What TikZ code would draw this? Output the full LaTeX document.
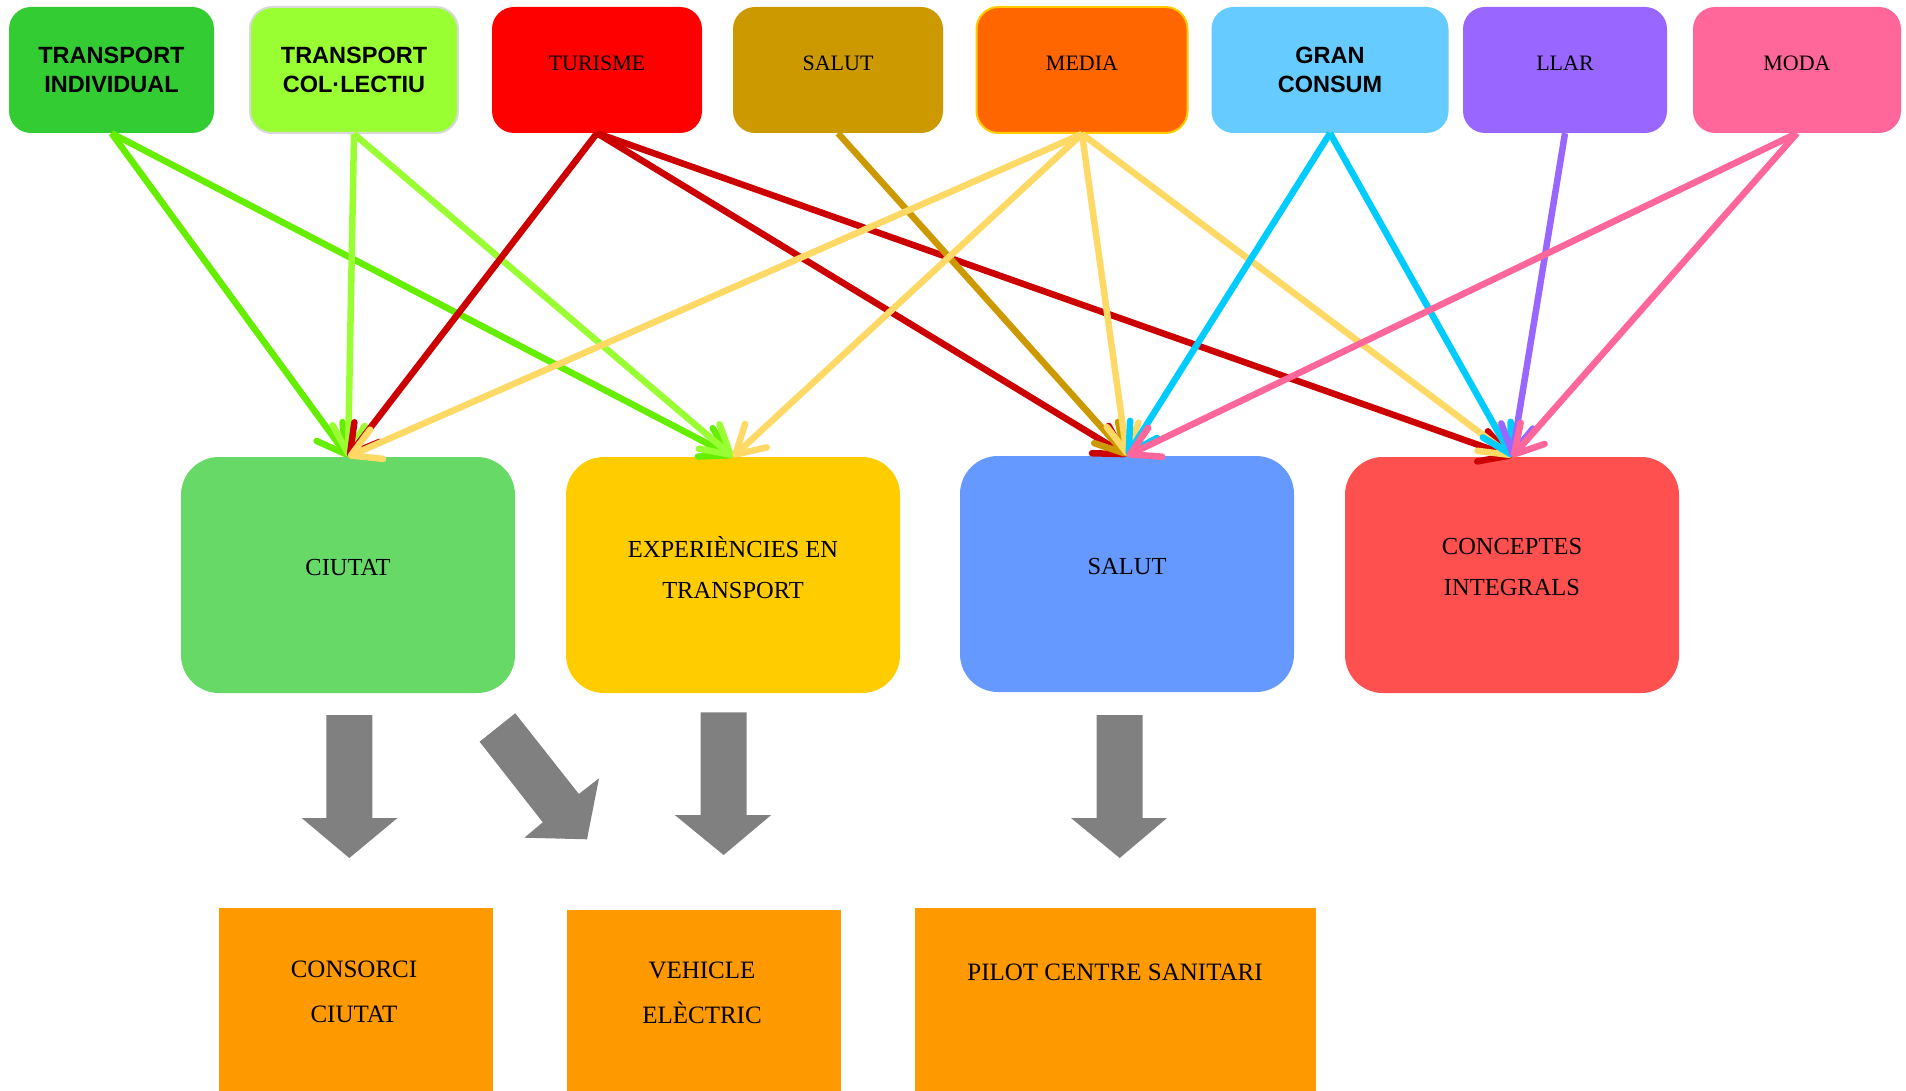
\documentclass[tikz,border=0pt]{standalone}
\usepackage{fontspec}
\setmainfont{Liberation Serif}
\newfontfamily\arialfont{Liberation Sans}
\usetikzlibrary{arrows.meta}

\definecolor{indiv}{HTML}{33CC33}
\definecolor{colect}{HTML}{99FF33}
\definecolor{colectline}{HTML}{D9D9D9}
\definecolor{turisme}{HTML}{FF0000}
\definecolor{salut}{HTML}{CC9900}
\definecolor{media}{HTML}{FF6600}
\definecolor{medialine}{HTML}{FFCC00}
\definecolor{consum}{HTML}{66CCFF}
\definecolor{llar}{HTML}{9966FF}
\definecolor{moda}{HTML}{FF6699}
\definecolor{ciutat}{HTML}{66D966}
\definecolor{exper}{HTML}{FFCC00}
\definecolor{salutm}{HTML}{6699FF}
\definecolor{integr}{HTML}{FF5050}
\definecolor{pilot}{HTML}{FF9900}
\definecolor{blockgray}{HTML}{808080}
\definecolor{lindiv}{HTML}{66EE00}
\definecolor{lcolect}{HTML}{99FF33}
\definecolor{lturisme}{HTML}{CC0000}
\definecolor{lsalut}{HTML}{CC9900}
\definecolor{lmedia}{HTML}{FFD966}
\definecolor{lconsum}{HTML}{00CCFF}
\definecolor{lllar}{HTML}{9966FF}
\definecolor{lmoda}{HTML}{FF6699}

\begin{document}
\begin{tikzpicture}[x=1pt,y=-1pt,
    box/.style={inner sep=0pt,align=center},
    tbox/.style={box,rounded corners=22pt,minimum width=208pt,minimum height=126pt},
    tsans/.style={tbox,font=\arialfont\bfseries\fontsize{23.5pt}{29pt}\selectfont},
    tserif/.style={tbox,font=\fontsize{22pt}{26pt}\selectfont,text depth=14pt},
    mbox/.style={box,rounded corners=38pt,minimum width=334pt,minimum height=236pt,
      font=\fontsize{24.5pt}{41pt}\selectfont,text depth=16pt},
    bbox/.style={box,fill=pilot,anchor=north,minimum height=183pt},
    btext/.style={box,font=\fontsize{25pt}{45pt}\selectfont},
    link/.style={line width=6.5pt,-{Straight Barb[length=28pt,width=32pt,round]}},
    block/.style={fill=blockgray}]
  \useasboundingbox (0,0) rectangle (1906,1091);

  \node[tsans,fill=indiv,minimum width=205pt] (t1) at (111.5,70) {TRANSPORT\\INDIVIDUAL};
  \node[tsans,fill=colect,draw=colectline,line width=2pt] (t2) at (354,70) {TRANSPORT\\COL·LECTIU};
  \node[tserif,fill=turisme,minimum width=210pt] (t3) at (597,70) {TURISME};
  \node[tserif,fill=salut,minimum width=210pt] (t4) at (838,70) {SALUT};
  \node[tserif,fill=media,draw=medialine,line width=2pt,minimum width=211pt] (t5) at (1082,70) {MEDIA};
  \node[tsans,fill=consum,minimum width=237pt] (t6) at (1330,70) {GRAN\\CONSUM};
  \node[tserif,fill=llar,minimum width=204pt] (t7) at (1565,70) {LLAR};
  \node[tserif,fill=moda] (t8) at (1797,70) {MODA};

  \node[mbox,fill=ciutat] (m1) at (348,575) {CIUTAT};
  \node[mbox,fill=exper] (m2) at (733,575) {EXPERIÈNCIES EN\\TRANSPORT};
  \node[mbox,fill=salutm] (m3) at (1127,574) {SALUT};
  \node[mbox,fill=integr] (m4) at (1512,575) {CONCEPTES\\INTEGRALS};

  \node[bbox,minimum width=274pt] (b1) at (355.8,908) {};
  \node[bbox,minimum width=274pt] (b2) at (704,910) {};
  \node[bbox,minimum width=401.5pt] (b3) at (1115.7,908) {};
  \node[btext] (l1) at (354,991.5) {CONSORCI\\CIUTAT};
  \node[btext] (l2) at (702,993) {VEHICLE\\ELÈCTRIC};
  \node[btext] (l3) at (1115,972.5) {PILOT CENTRE SANITARI};

  \draw[link,lindiv] (t1.south) -- (m1.north);
  \draw[link,lindiv] (t1.south) -- (m2.north);
  \draw[link,lcolect] (t2.south) -- (m1.north);
  \draw[link,lcolect] (t2.south) -- (m2.north);
  \draw[link,lturisme] (t3.south) -- (m1.north);
  \draw[link,lturisme] (t3.south) -- (m3.north);
  \draw[link,lturisme] (t3.south) -- (m4.north);
  \draw[link,lsalut] (t4.south) -- (m3.north);
  \draw[link,lmedia] (t5.south) -- (m1.north);
  \draw[link,lmedia] (t5.south) -- (m2.north);
  \draw[link,lmedia] (t5.south) -- (m3.north);
  \draw[link,lmedia] (t5.south) -- (m4.north);
  \draw[link,lconsum] (t6.south) -- (m3.north);
  \draw[link,lconsum] (t6.south) -- (m4.north);
  \draw[link,lllar] (t7.south) -- (m4.north);
  \draw[link,lmoda] (t8.south) -- (m3.north);
  \draw[link,lmoda] (t8.south) -- (m4.north);

  \fill[block] (326.3,715) -- (372.3,715) -- (372.3,818) -- (397.5,818) -- (349.3,858)
    -- (301.7,818) -- (326.3,818) -- cycle;
  \fill[block] (479.6,741.7) -- (515.2,713.3) -- (578.9,794) -- (599,778.3) -- (587,839.3)
    -- (524.4,837.7) -- (542.8,822.3) -- cycle;
  \fill[block] (700.6,712.3) -- (746.6,712.3) -- (746.6,815) -- (771.2,815) -- (723.6,855)
    -- (674.8,815) -- (700.6,815) -- cycle;
  \fill[block] (1096.7,715) -- (1142.7,715) -- (1142.7,818) -- (1167,818) -- (1119.7,858)
    -- (1071,818) -- (1096.7,818) -- cycle;
\end{tikzpicture}
\end{document}
